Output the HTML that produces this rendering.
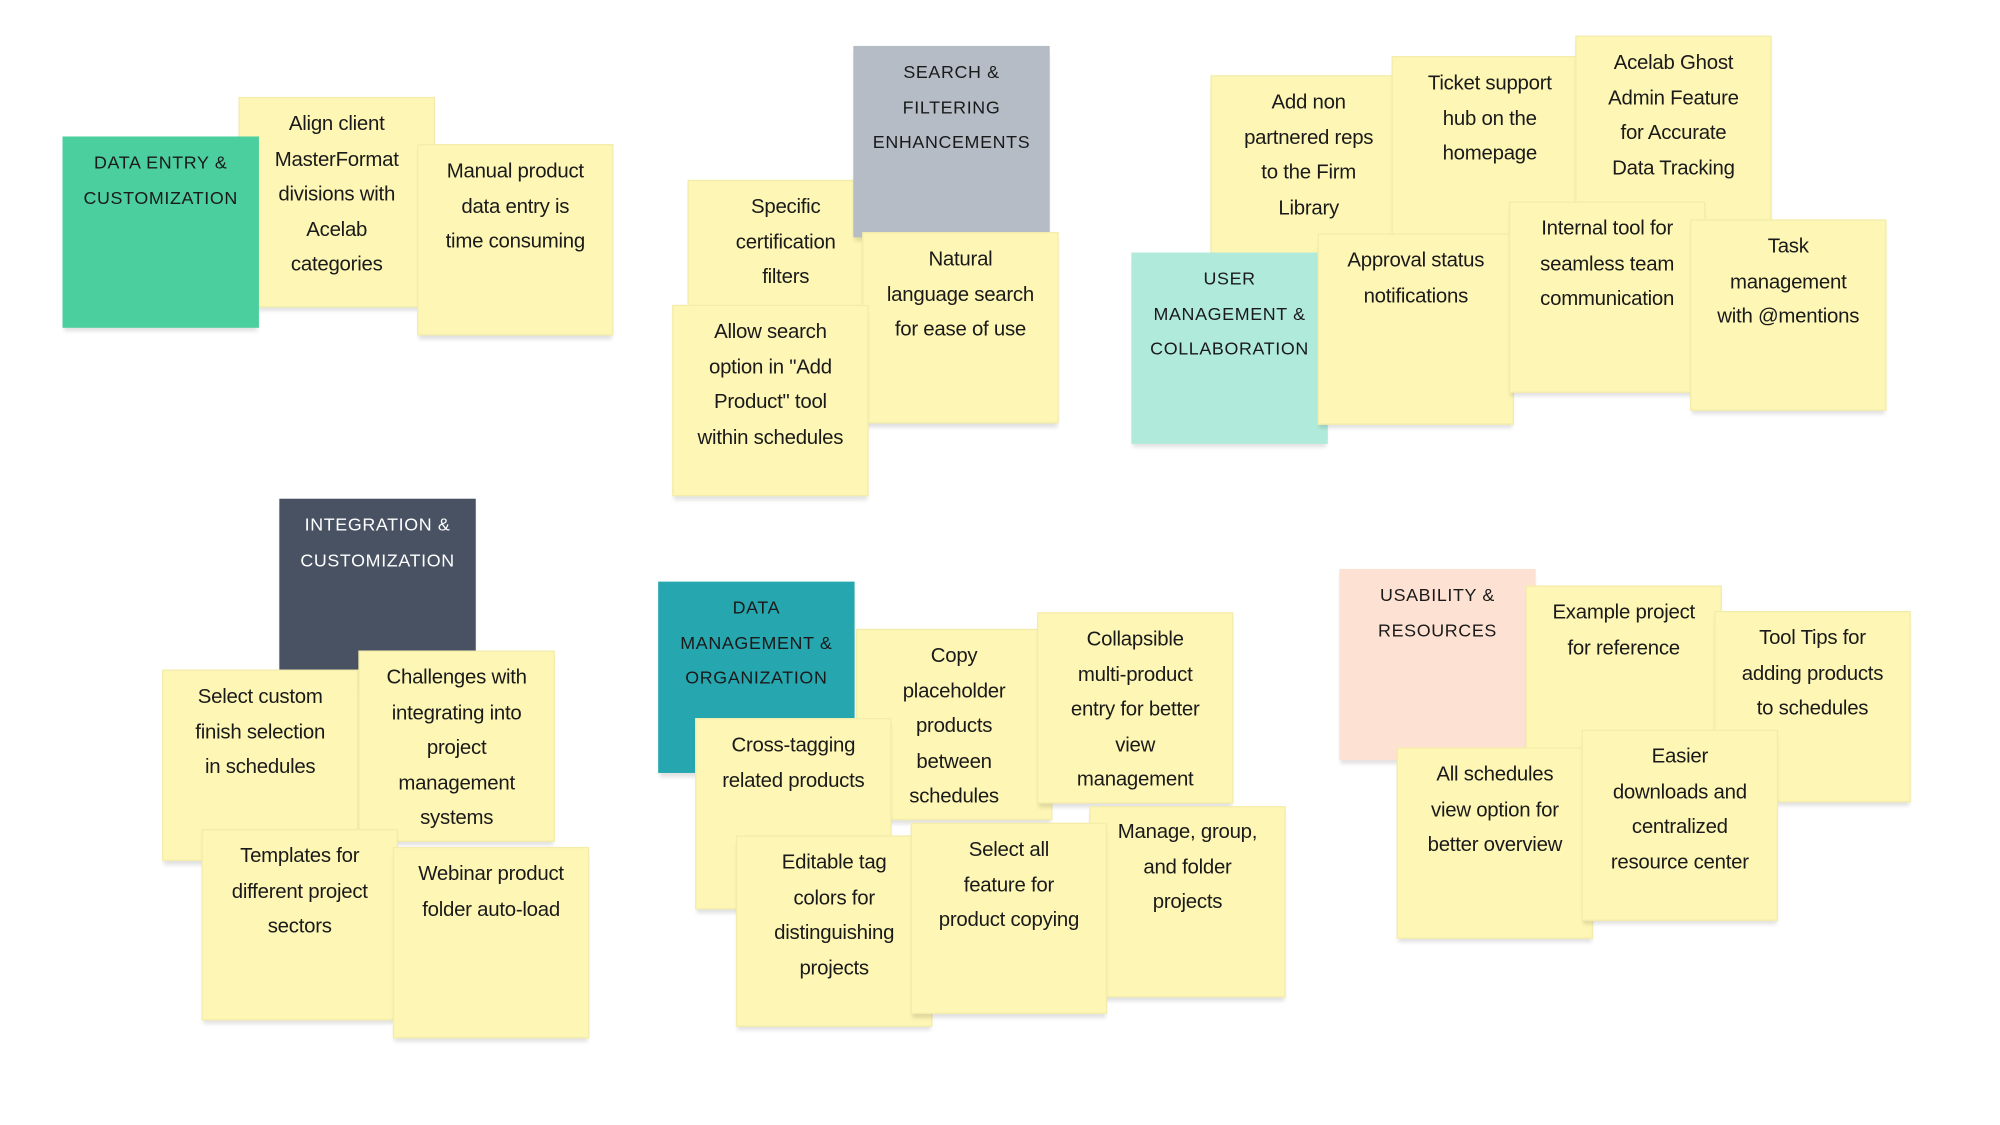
<!DOCTYPE html>
<html><head><meta charset="utf-8"><style>
html,body{margin:0;padding:0;background:#fff;width:2000px;height:1125px;overflow:hidden}
#c{position:absolute;left:0;top:0;width:1568px;height:882px;transform:scale(1.2755);transform-origin:0 0}
.n{position:absolute;width:154px;height:150px;background:#fdf6b4;box-sizing:border-box;padding:7px 0 0;text-align:center;font-family:"Liberation Sans",sans-serif;font-size:16px;line-height:27.5px;color:#1a1a1a;box-shadow:0 4px 3px -1px rgba(0,0,0,0.12);border:1px solid #f3ecab;white-space:nowrap;letter-spacing:-0.2px}
.h{font-size:14px;letter-spacing:0.5px}
</style></head><body><div id="c">
<div class="n" style="left:187px;top:76px;height:165px">Align client<br>MasterFormat<br>divisions with<br>Acelab<br>categories</div>
<div class="n h" style="left:49px;top:107px;background:#4ccf9e;border:none">DATA ENTRY &amp;<br>CUSTOMIZATION</div>
<div class="n" style="left:327px;top:113px">Manual product<br>data entry is<br>time consuming</div>

<div class="n" style="left:539px;top:141px">Specific<br>certification<br>filters</div>
<div class="n h" style="left:669px;top:36px;background:#b5bcc6;border:none">SEARCH &amp;<br>FILTERING<br>ENHANCEMENTS</div>
<div class="n" style="left:676px;top:182px">Natural<br>language search<br>for ease of use</div>
<div class="n" style="left:527px;top:239px">Allow search<br>option in "Add<br>Product" tool<br>within schedules</div>

<div class="n" style="left:949px;top:59px">Add non<br>partnered reps<br>to the Firm<br>Library</div>
<div class="n" style="left:1091px;top:44px">Ticket support<br>hub on the<br>homepage</div>
<div class="n" style="left:1235px;top:28px">Acelab Ghost<br>Admin Feature<br>for Accurate<br>Data Tracking</div>
<div class="n h" style="left:887px;top:198px;background:#b0eadb;border:none">USER<br>MANAGEMENT &amp;<br>COLLABORATION</div>
<div class="n" style="left:1033px;top:183px">Approval status<br>notifications</div>
<div class="n" style="left:1183px;top:158px">Internal tool for<br>seamless team<br>communication</div>
<div class="n" style="left:1325px;top:172px">Task<br>management<br>with @mentions</div>

<div class="n h" style="left:219px;top:391px;background:#485263;color:#fff;border:none">INTEGRATION &amp;<br>CUSTOMIZATION</div>
<div class="n" style="left:127px;top:525px">Select custom<br>finish selection<br>in schedules</div>
<div class="n" style="left:281px;top:510px">Challenges with<br>integrating into<br>project<br>management<br>systems</div>
<div class="n" style="left:158px;top:650px">Templates for<br>different project<br>sectors</div>
<div class="n" style="left:308px;top:664px">Webinar product<br>folder auto-load</div>

<div class="n h" style="left:516px;top:456px;background:#26a7b0;border:none">DATA<br>MANAGEMENT &amp;<br>ORGANIZATION</div>
<div class="n" style="left:671px;top:493px">Copy<br>placeholder<br>products<br>between<br>schedules</div>
<div class="n" style="left:813px;top:480px">Collapsible<br>multi-product<br>entry for better<br>view<br>management</div>
<div class="n" style="left:545px;top:563px">Cross-tagging<br>related products</div>
<div class="n" style="left:854px;top:632px;padding-top:6px">Manage, group,<br>and folder<br>projects</div>
<div class="n" style="left:577px;top:655px">Editable tag<br>colors for<br>distinguishing<br>projects</div>
<div class="n" style="left:714px;top:645px">Select all<br>feature for<br>product copying</div>

<div class="n h" style="left:1050px;top:446px;background:#fde1d3;border:none">USABILITY &amp;<br>RESOURCES</div>
<div class="n" style="left:1196px;top:459px">Example project<br>for reference</div>
<div class="n" style="left:1344px;top:479px">Tool Tips for<br>adding products<br>to schedules</div>
<div class="n" style="left:1095px;top:586px">All schedules<br>view option for<br>better overview</div>
<div class="n" style="left:1240px;top:572px">Easier<br>downloads and<br>centralized<br>resource center</div>
</div></body></html>
